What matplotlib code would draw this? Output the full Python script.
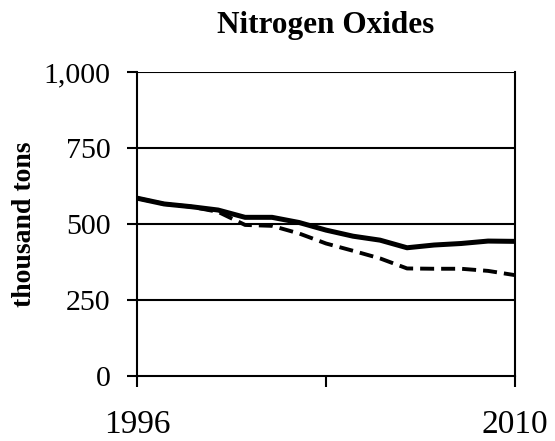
import matplotlib.pyplot as plt

years = list(range(1996, 2011))
actual = [585, 566, 557, 546, 522, 522, 505, 480, 460, 447, 422, 431, 436, 444, 443]
projected = [585, 566, 557, 540, 497, 494, 469, 436, 412, 387, 354, 353, 353, 346, 332]
y_ticks = [0, 250, 500, 750, 1000]
y_labels = ["0", "250", "500", "750", "1,000"]

plt.rcParams['font.family'] = ['Liberation Serif', 'DejaVu Serif']

fig = plt.figure(figsize=(5.55, 4.41), dpi=100)
ax = fig.add_axes([0.247, 0.147, 0.681, 0.69])

ax.plot(years, projected, color='black', lw=2.8, ls=(0, (3.6, 1.8)), zorder=3)
ax.plot(years, actual, color='black', lw=3.6, zorder=4)

ax.set_xlim(1996, 2010)
ax.set_ylim(0, 1000)
ax.set_yticks(y_ticks)
ax.set_yticklabels(y_labels)
ax.set_xticks([1996, 2003, 2010])
ax.set_xticklabels(["1996", "", "2010"])
for y in y_ticks[1:]:
    ax.axhline(y, color='black', lw=1.5, zorder=1)

for s in ['left', 'right', 'bottom']:
    ax.spines[s].set_linewidth(1.5)
ax.spines['top'].set_visible(False)
ax.tick_params(axis='y', length=7, width=1.5, labelsize=21.5, pad=12)
ax.tick_params(axis='x', length=8, width=1.5, labelsize=24, pad=16)

ax.set_ylabel("thousand tons", fontsize=20, fontweight='bold', labelpad=5)
ax.set_title("Nitrogen Oxides", fontsize=22.5, fontweight='bold', pad=28)

plt.savefig('out.png', dpi=100)
